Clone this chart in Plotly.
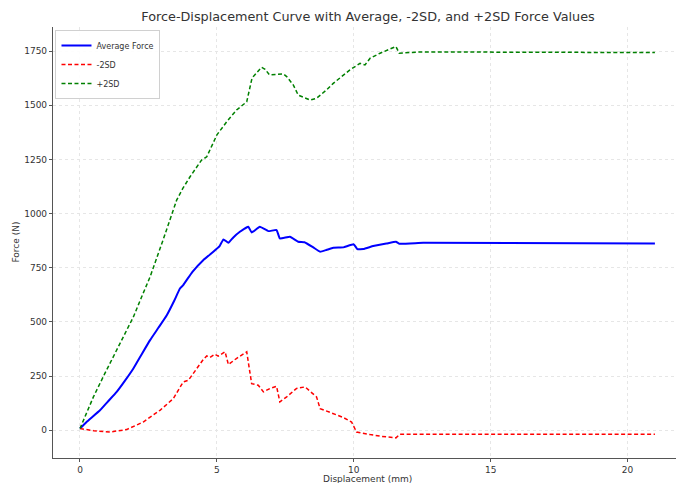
import plotly.graph_objects as go

# Average force
avg_x = [0, 0.24, 0.73, 1.0, 1.34, 1.65, 1.95, 2.25, 2.56, 2.87, 3.17, 3.45, 3.65, 3.77, 4.1, 4.5,
         4.87, 5.1, 5.24, 5.42, 5.6, 5.84, 6.15, 6.27, 6.57, 6.88, 7.18, 7.30, 7.67, 7.97, 8.2,
         8.52, 8.77, 9.0, 9.25, 9.62, 10.0, 10.13, 10.35, 10.71, 11.2, 11.54, 11.66, 12.54, 21.0]
avg_f = [8, 38, 92, 130, 177, 230, 285, 350, 416, 474, 531, 600, 654, 670, 730, 785,
         824, 850, 881, 865, 890, 916, 939, 913, 939, 919, 924, 885, 893, 870, 868,
         844, 824, 832, 842, 844, 858, 836, 836, 850, 862, 870, 861, 865, 862]

# -2SD
m2_x = [0, 0.5, 1.1, 1.7, 2.31, 2.92, 3.41, 3.77, 3.96, 4.26, 4.5, 4.63, 4.75, 4.93, 5.05,
        5.30, 5.42, 5.7, 6.09, 6.27, 6.51, 6.70, 6.94, 7.18, 7.30, 7.55, 7.91, 8.22, 8.52,
        8.64, 8.77, 9.25, 9.6, 9.92, 10.1, 10.6, 11.0, 11.54, 11.69, 21.0]
m2_f = [8, -2, -8, 3, 38, 92, 146, 223, 231, 285, 326, 343, 336, 351, 342,
        362, 303, 330, 362, 215, 208, 177, 193, 203, 131, 154, 193, 200, 169,
        154, 100, 77, 60, 38, -8, -20, -28, -35, -18, -18]

# +2SD
p2_x = [0, 0.49, 0.9, 1.34, 1.65, 1.95, 2.25, 2.56, 3.04, 3.53, 3.75, 4.02, 4.44, 4.63, 5.0, 5.17,
        5.36, 5.72, 6.09, 6.27, 6.33, 6.63, 6.76, 6.92, 7.43, 7.55, 7.79, 7.97, 8.4, 8.64,
        9.0, 9.25, 9.86, 10.23, 10.41, 10.6, 10.96, 11.54, 11.66, 12.4, 21.0]
p2_f = [8, 154, 260, 370, 445, 523, 615, 708, 880, 1062, 1115, 1170, 1247, 1262, 1363, 1393,
        1424, 1478, 1516, 1617, 1632, 1675, 1666, 1640, 1644, 1632, 1594, 1547, 1524, 1532,
        1570, 1601, 1663, 1693, 1686, 1717, 1740, 1771, 1740, 1746, 1743]

x_ticks = [0, 5, 10, 15, 20]
y_ticks = [0, 250, 500, 750, 1000, 1250, 1500, 1750]

fig = go.Figure()
fig.add_trace(go.Scatter(x=avg_x, y=avg_f, mode="lines", name="Average Force",
                         line=dict(color="blue", width=2, shape="spline", smoothing=0.3)))
fig.add_trace(go.Scatter(x=m2_x, y=m2_f, mode="lines", name="-2SD",
                         line=dict(color="red", width=1.5, dash="4px,2.5px")))
fig.add_trace(go.Scatter(x=p2_x, y=p2_f, mode="lines", name="+2SD",
                         line=dict(color="green", width=1.5, dash="4px,2.5px")))

font_family = "DejaVu Sans"
axis_common = dict(
    showgrid=True, gridcolor="#e6e6e6", griddash="dot", gridwidth=1,
    zeroline=False, showline=True, linecolor="#555", linewidth=1.2,
    ticks="outside", ticklen=3, tickcolor="#555",
    tickfont=dict(family=font_family, size=9, color="#333"),
)

fig.update_layout(
    width=676, height=483,
    margin=dict(l=53, r=0, t=27, b=25),
    paper_bgcolor="white", plot_bgcolor="white",
    font=dict(family=font_family),
    title=dict(text="Force-Displacement Curve with Average, -2SD, and +2SD Force Values",
               xref="paper", x=0.5056, xanchor="center", y=0.965, yanchor="middle",
               font=dict(family=font_family, size=12.8, color="#333")),
    xaxis=dict(range=[-0.986, 21.77], tickvals=x_ticks, **axis_common),
    yaxis=dict(range=[-128, 1861], tickvals=y_ticks, **axis_common),
    legend=dict(x=0.004, y=0.993, xanchor="left", yanchor="top",
                bgcolor="rgba(255,255,255,0.9)", bordercolor="#d0d0d0", borderwidth=1,
                font=dict(family=font_family, size=8, color="#333"),
                tracegroupgap=0, itemwidth=30),
    showlegend=True,
    annotations=[
        dict(text="Displacement (mm)", x=0.5056, xref="paper", y=0, yref="paper",
             yshift=-21, xanchor="center", yanchor="middle", showarrow=False,
             font=dict(family=font_family, size=9, color="#333")),
        dict(text="Force (N)", x=0, xref="paper", xshift=-38, y=0.5, yref="paper",
             textangle=-90, xanchor="center", yanchor="middle", showarrow=False,
             font=dict(family=font_family, size=9, color="#333")),
    ],
)

fig.write_html("out.html")
